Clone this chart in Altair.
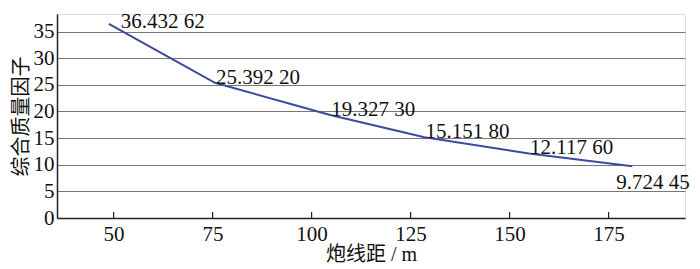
import altair as alt
import pandas as pd

# data
spacing = [48.8, 75.6, 104.7, 128.5, 154.9, 181.0]
quality = [36.43262, 25.39220, 19.32730, 15.15180, 12.11760, 9.72445]
labels = ["36.432 62", "25.392 20", "19.327 30", "15.151 80", "12.117 60", "9.724 45"]
x_ticks = [50, 75, 100, 125, 150, 175]
y_ticks = [0, 5, 10, 15, 20, 25, 30, 35]

df = pd.DataFrame({"x": spacing, "y": quality, "label": labels, "i": list(range(len(spacing)))})
ticks_df = pd.DataFrame({"t": x_ticks})

FONT = "Liberation Serif, Times New Roman, Noto Sans CJK SC"
W, H = 628, 204

xscale = alt.Scale(domain=[35.7, 194.3], nice=False, zero=False)
yscale = alt.Scale(domain=[0, 38.3], nice=False)

xaxis = alt.Axis(values=x_ticks, grid=False, ticks=False, domainColor="#222",
                 domainWidth=1.5, labelFont=FONT, labelFontSize=21, labelColor="#111",
                 labelPadding=5, labelOverlap=False, title="炮线距 / m", titleFont=FONT,
                 titleFontSize=20, titleFontWeight="normal", titleColor="#111",
                 titlePadding=0)
yaxis = alt.Axis(values=y_ticks, grid=True, gridColor="#777", gridWidth=1, ticks=False,
                 domainColor="#222", domainWidth=1.5, labelFont=FONT, labelFontSize=21,
                 labelColor="#111", labelPadding=3, labelOverlap=False,
                 title="综合质量因子", titleFont=FONT,
                 titleFontSize=20, titleFontWeight="normal", titleColor="#111",
                 titlePadding=2)

X = alt.X("x:Q", scale=xscale, axis=xaxis)
Y = alt.Y("y:Q", scale=yscale, axis=yaxis)

base = alt.Chart(df)

line = base.mark_line(color="#3b4a9e", strokeWidth=2).encode(x=X, y=Y)

tick_marks = alt.Chart(ticks_df).mark_rule(color="#222", strokeWidth=1.2).encode(
    x=alt.X("t:Q", scale=xscale, axis=xaxis), y=alt.value(H), y2=alt.value(H - 6)
)

txt_kw = dict(align="left", baseline="alphabetic", font=FONT, fontSize=21, color="#111")
enc = dict(x=X, y=Y, text="label:N")

t_first = base.transform_filter("datum.i == 0").mark_text(dx=12, dy=4, **txt_kw).encode(**enc)
t_mid = base.transform_filter("datum.i > 0 && datum.i < 5").mark_text(dx=1, dy=1, **txt_kw).encode(**enc)
t_last = base.transform_filter("datum.i == 5").mark_text(dx=-16, dy=23, **txt_kw).encode(**enc)

chart = alt.layer(line, tick_marks, t_first, t_mid, t_last).properties(
    width=W, height=H,
    autosize=alt.AutoSizeParams(type="none"),
    padding={"left": 49, "top": 6, "right": 7, "bottom": 51},
).configure_view(stroke=None).configure(background="white")

chart.save("out.html", embed_options={"renderer": "svg", "actions": False})
